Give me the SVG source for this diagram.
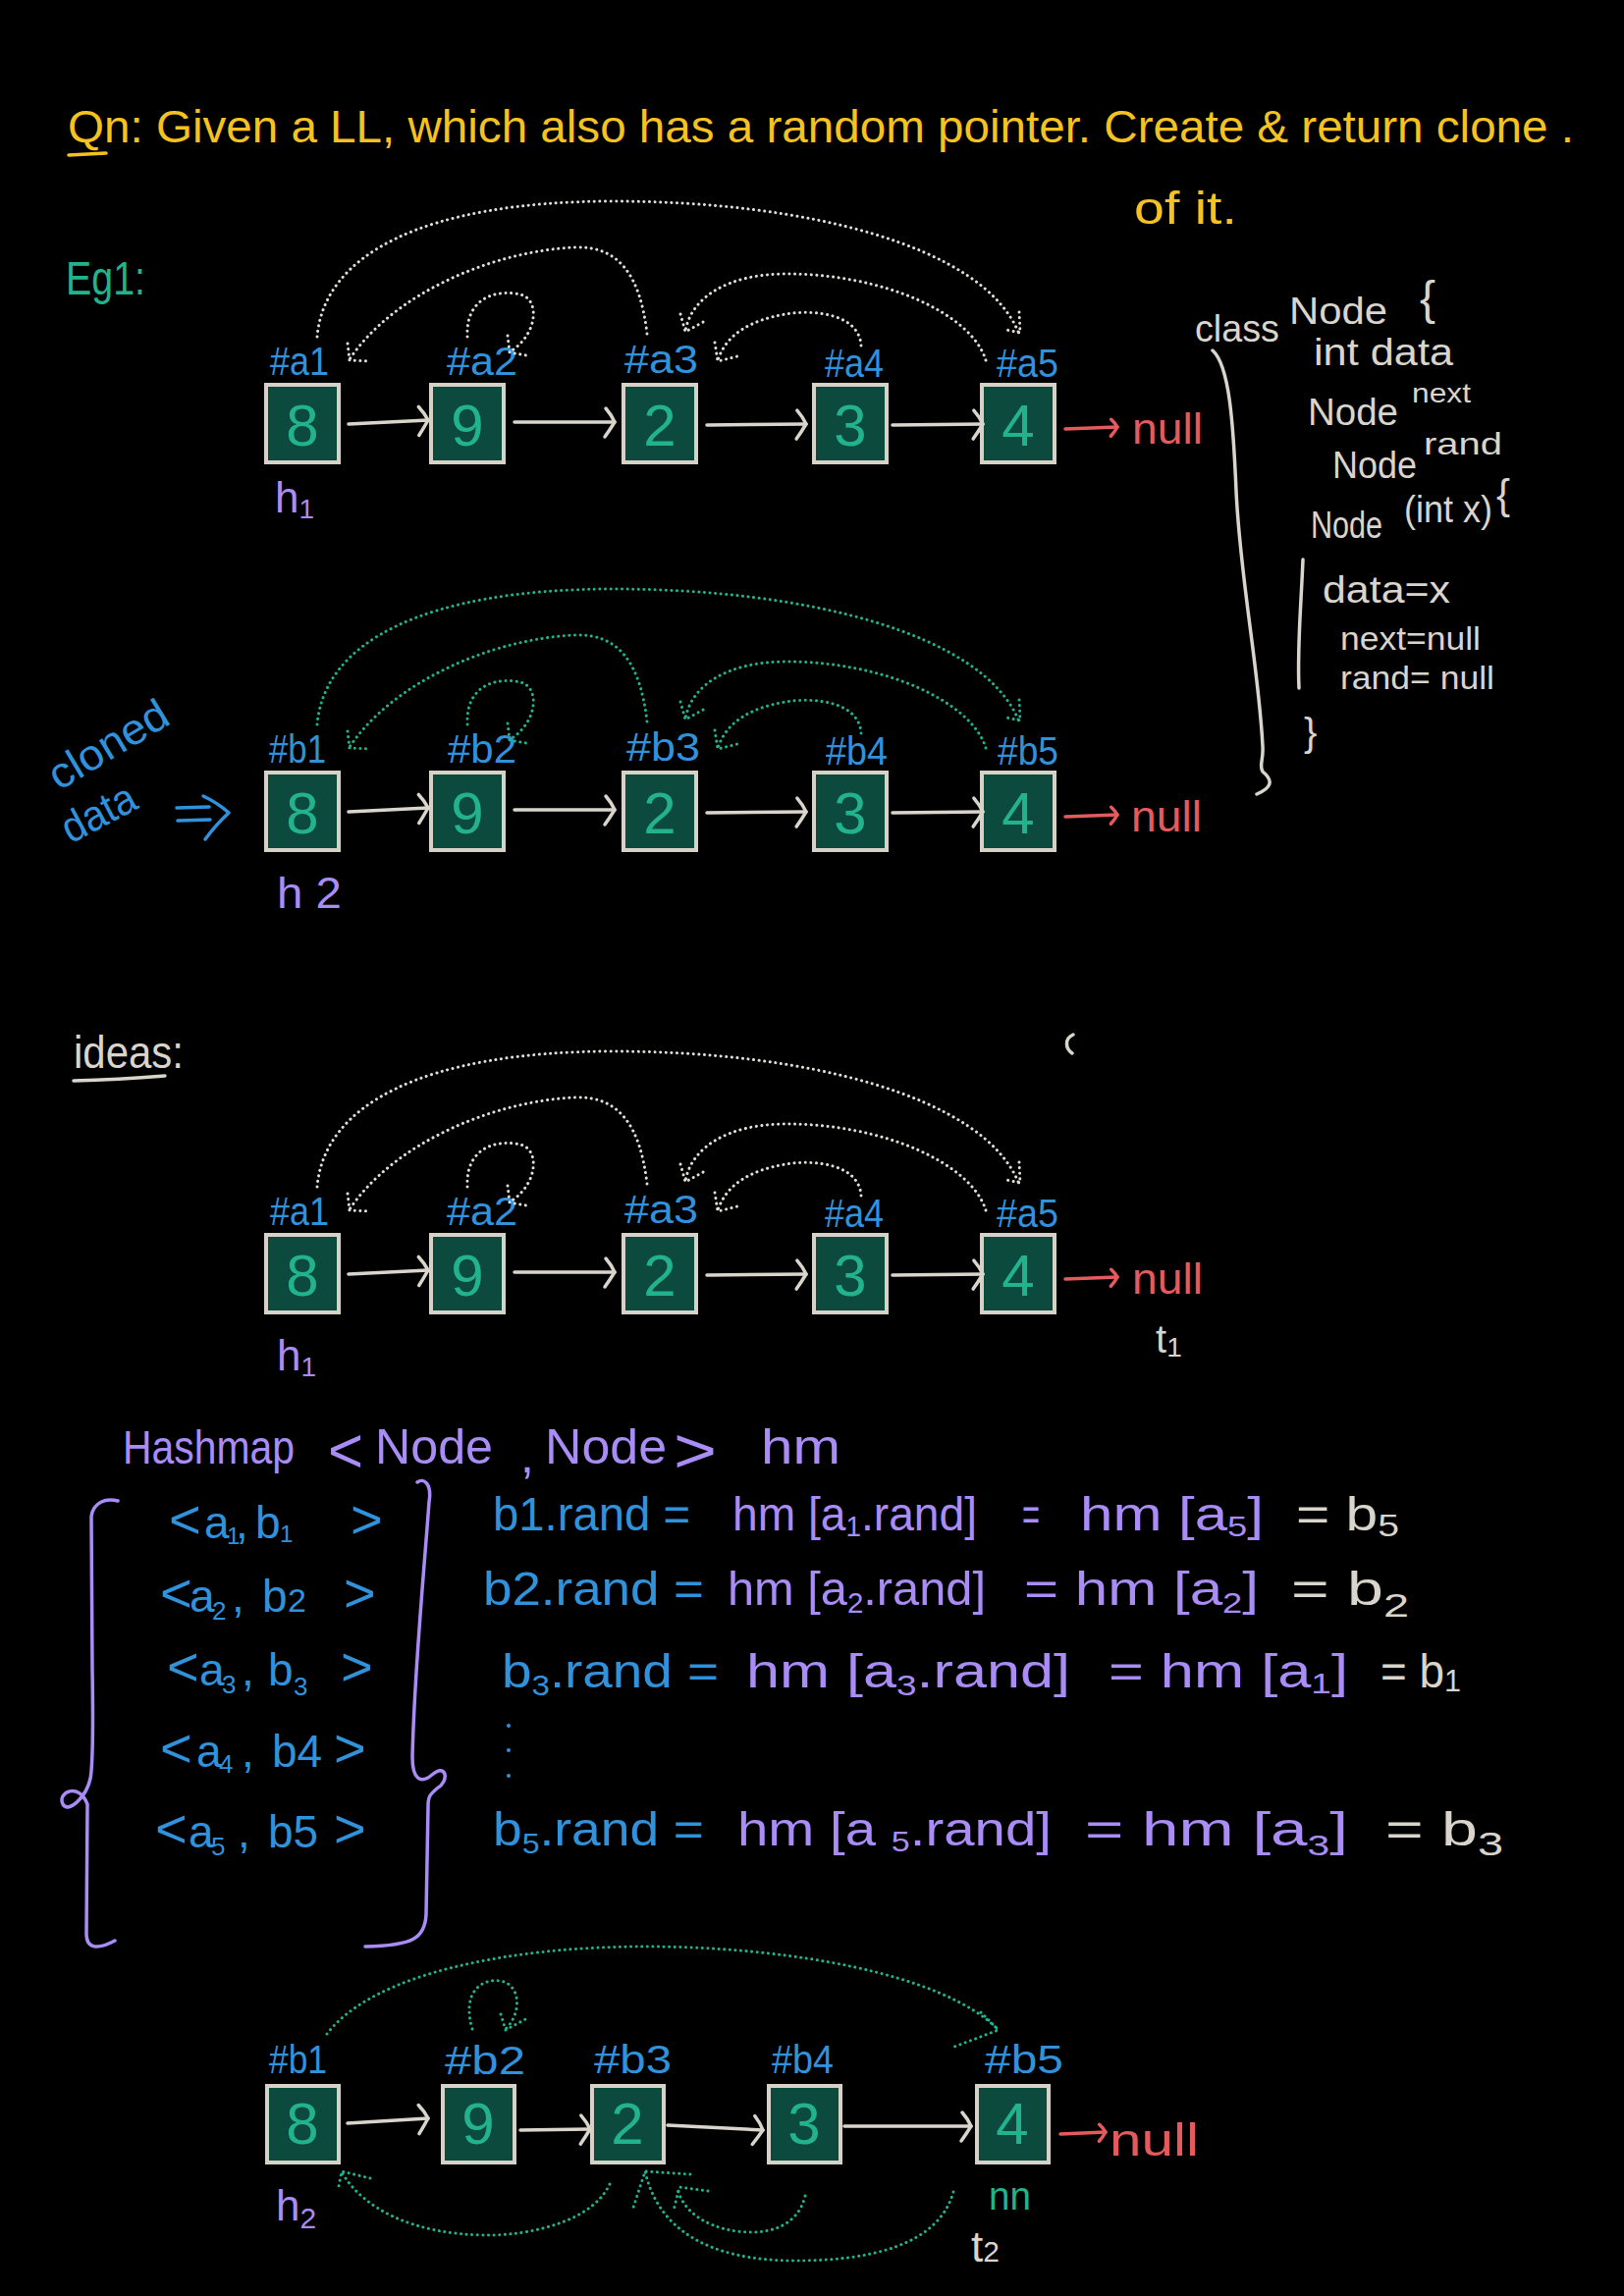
<svg xmlns="http://www.w3.org/2000/svg" width="1654" height="2339" viewBox="0 0 1654 2339">
<style>
text { font-family: 'Liberation Sans', Arial, sans-serif; }
.y { fill: #f5c21f; } .b { fill: #3192dc; } .p { fill: #a98cf6; } .g { fill: #d9d5cc; } .t { fill: #22b38d; } .r { fill: #e45b5d; }
.box { fill: #0c4a3e; stroke: #d6d2c8; stroke-width: 4; }
.num { font-size: 60px; text-anchor: middle; fill: #22b38d; }
.lbl { font-size: 40px; fill: #3192dc; }
.br { font-size: 56px; }
.next { fill: none; stroke: #d9d5cc; stroke-width: 3.5; stroke-linecap: round; marker-end: url(#ah); }
.nul { fill: none; stroke: #e45b5d; stroke-width: 3.5; stroke-linecap: round; marker-end: url(#ahr); }
.dw { fill: none; stroke: #e2dfd8; stroke-width: 3; stroke-linecap: round; stroke-dasharray: 0.1 5.5; }
.dt { fill: none; stroke: #22b38d; stroke-width: 3; stroke-linecap: round; stroke-dasharray: 0.1 5.5; }
.pen { fill: none; stroke-width: 3.5; stroke-linecap: round; stroke-linejoin: round; }
</style>
<defs>
  <marker id="ah" viewBox="-16 -18 20 36" refX="0" refY="0" markerWidth="20" markerHeight="36" markerUnits="userSpaceOnUse" orient="auto" overflow="visible">
    <path d="M-9,-14 Q-3,-7 0,0 Q-5,8 -10,15" fill="none" stroke="#d9d5cc" stroke-width="3.5" stroke-linecap="round"/>
  </marker>
  <marker id="ahr" viewBox="-12 -12 16 24" refX="0" refY="0" markerWidth="16" markerHeight="24" markerUnits="userSpaceOnUse" orient="auto" overflow="visible">
    <path d="M-6,-8 Q-2,-4 0,0 Q-3,5 -7,9" fill="none" stroke="#e45b5d" stroke-width="3.5" stroke-linecap="round"/>
  </marker>
</defs>

<rect width="1654" height="2339" fill="#000"/>

<!-- question -->
<g id="question">
  <text class="y" x="69" y="145" font-size="47" textLength="1534" lengthAdjust="spacingAndGlyphs">Qn: Given a LL, which also has a random pointer. Create &amp; return clone .</text>
  <path class="pen" stroke="#f5c21f" d="M70,158 L108,156"/>
  <text class="y" x="1155" y="228" font-size="47" textLength="105" lengthAdjust="spacingAndGlyphs">of it.</text>
</g>

<text id="eg1" class="t" x="67" y="300" font-size="48" textLength="81" lengthAdjust="spacingAndGlyphs">Eg1:</text>

<!-- class definition sketch -->
<g id="classNode" class="g" font-size="38">
  <text x="1217" y="348" textLength="86" lengthAdjust="spacingAndGlyphs">class</text>
  <text x="1313" y="330" textLength="100" lengthAdjust="spacingAndGlyphs">Node</text>
  <text x="1446" y="320" font-size="48">{</text>
  <text x="1338" y="372" textLength="142" lengthAdjust="spacingAndGlyphs">int data</text>
  <text x="1332" y="433" textLength="92" lengthAdjust="spacingAndGlyphs">Node</text>
  <text x="1438" y="410" font-size="28" textLength="60" lengthAdjust="spacingAndGlyphs">next</text>
  <text x="1357" y="487" textLength="86" lengthAdjust="spacingAndGlyphs">Node</text>
  <text x="1450" y="463" font-size="32" textLength="80" lengthAdjust="spacingAndGlyphs">rand</text>
  <text x="1335" y="548" textLength="73" lengthAdjust="spacingAndGlyphs">Node</text>
  <text x="1430" y="532" textLength="90" lengthAdjust="spacingAndGlyphs">(int x)</text>
  <text x="1524" y="518" font-size="42">{</text>
  <path class="pen" stroke="#d9d5cc" d="M1327,570 C1325,620 1321,660 1323,701"/>
  <text x="1347" y="614" textLength="130" lengthAdjust="spacingAndGlyphs">data=x</text>
  <text x="1365" y="662" font-size="34" textLength="143" lengthAdjust="spacingAndGlyphs">next=null</text>
  <text x="1365" y="702" font-size="34" textLength="157" lengthAdjust="spacingAndGlyphs">rand= null</text>
  <text x="1328" y="760" font-size="40">}</text>
  <path class="pen" stroke="#d9d5cc" d="M1235,357 C1252,372 1256,430 1259,500 C1263,590 1282,680 1286,760 C1287,775 1282,780 1286,786 C1298,796 1294,803 1280,809"/>
</g>

<!-- list 1: original nodes a1..a5 -->
<g id="list1">
  <g id="list1-nodes">
    <g id="a1"><rect class="box" x="271" y="392" width="74" height="79"/><text class="num" x="308" y="454">8</text><text class="lbl" x="275" y="382" textLength="60" lengthAdjust="spacingAndGlyphs">#a1</text></g>
    <g id="a2"><rect class="box" x="439" y="392" width="74" height="79"/><text class="num" x="476" y="454">9</text><text class="lbl" x="455" y="382" textLength="72" lengthAdjust="spacingAndGlyphs">#a2</text></g>
    <g id="a3"><rect class="box" x="635" y="392" width="74" height="79"/><text class="num" x="672" y="454">2</text><text class="lbl" x="636" y="380" textLength="75" lengthAdjust="spacingAndGlyphs">#a3</text></g>
    <g id="a4"><rect class="box" x="829" y="392" width="74" height="79"/><text class="num" x="866" y="454">3</text><text class="lbl" x="840" y="384" textLength="60" lengthAdjust="spacingAndGlyphs">#a4</text></g>
    <g id="a5"><rect class="box" x="1000" y="392" width="74" height="79"/><text class="num" x="1037" y="454">4</text><text class="lbl" x="1015" y="384" textLength="63" lengthAdjust="spacingAndGlyphs">#a5</text></g>
    <g id="null1"><text class="r" x="1153" y="452" font-size="44" textLength="72" lengthAdjust="spacingAndGlyphs">null</text></g>
    <g id="h1"><text class="p" x="280" y="522" font-size="44">h<tspan font-size="28" dy="6">1</tspan></text></g>
  </g>
  <g id="list1-links">
    <path class="next" d="M355,432 L436,428"/>
    <path class="next" d="M524,430 L626,430"/>
    <path class="next" d="M720,433 L821,432"/>
    <path class="next" d="M909,433 L1001,432"/>
    <path class="nul" d="M1085,437 L1138,435"/>
    <path class="dw" d="M323,343 C330,260 430,205 625,205 C820,205 1000,250 1037,338"/>
    <path class="dw" d="M1038,318 L1039,339 L1025,336"/>
    <path class="dw" d="M659,340 C652,280 630,250 585,252 C500,256 400,300 356,366"/>
    <path class="dw" d="M354,350 L356,367 L378,368"/>
    <path class="dw" d="M476,343 C474,300 510,295 530,300 C550,305 548,340 520,358"/>
    <path class="dw" d="M517,342 L519,359 L536,362"/>
    <path class="dw" d="M1004,367 C990,320 900,278 797,279 C745,280 705,300 698,337"/>
    <path class="dw" d="M693,320 L698,338 L718,327"/>
    <path class="dw" d="M877,352 C875,320 830,315 800,320 C765,326 740,340 731,367"/>
    <path class="dw" d="M728,349 L731,368 L755,362"/>
  </g>
</g>

<!-- cloned data caption -->
<g id="clonedCaption">
  <text class="b" font-size="44" transform="translate(60,806) rotate(-31)" textLength="135" lengthAdjust="spacingAndGlyphs">cloned</text>
  <text class="b" font-size="44" transform="translate(72,860) rotate(-28)" textLength="80" lengthAdjust="spacingAndGlyphs">data</text>
  <path class="pen" stroke="#3192dc" d="M180,823 L213,822 M181,836 L214,835 M207,811 Q222,818 233,828 Q220,840 209,855"/>
</g>

<!-- list 2: cloned nodes b1..b5 -->
<g id="list2" transform="translate(0,395)">
  <g id="list2-nodes">
    <g id="b1"><rect class="box" x="271" y="392" width="74" height="79"/><text class="num" x="308" y="454">8</text><text class="lbl" x="274" y="382" textLength="58" lengthAdjust="spacingAndGlyphs">#b1</text></g>
    <g id="b2"><rect class="box" x="439" y="392" width="74" height="79"/><text class="num" x="476" y="454">9</text><text class="lbl" x="456" y="382" textLength="70" lengthAdjust="spacingAndGlyphs">#b2</text></g>
    <g id="b3"><rect class="box" x="635" y="392" width="74" height="79"/><text class="num" x="672" y="454">2</text><text class="lbl" x="638" y="380" textLength="75" lengthAdjust="spacingAndGlyphs">#b3</text></g>
    <g id="b4"><rect class="box" x="829" y="392" width="74" height="79"/><text class="num" x="866" y="454">3</text><text class="lbl" x="841" y="384" textLength="63" lengthAdjust="spacingAndGlyphs">#b4</text></g>
    <g id="b5"><rect class="box" x="1000" y="392" width="74" height="79"/><text class="num" x="1037" y="454">4</text><text class="lbl" x="1016" y="384" textLength="62" lengthAdjust="spacingAndGlyphs">#b5</text></g>
    <g id="null2"><text class="r" x="1152" y="452" font-size="44" textLength="72" lengthAdjust="spacingAndGlyphs">null</text></g>
    <g id="h2"><text class="p" x="282" y="530" font-size="44" textLength="66" lengthAdjust="spacingAndGlyphs">h 2</text></g>
  </g>
  <g id="list2-links">
    <path class="next" d="M355,432 L436,428"/>
    <path class="next" d="M524,430 L626,430"/>
    <path class="next" d="M720,433 L821,432"/>
    <path class="next" d="M909,433 L1001,432"/>
    <path class="nul" d="M1085,437 L1138,435"/>
    <path class="dt" d="M323,343 C330,260 430,205 625,205 C820,205 1000,250 1037,338"/>
    <path class="dt" d="M1038,318 L1039,339 L1025,336"/>
    <path class="dt" d="M659,340 C652,280 630,250 585,252 C500,256 400,300 356,366"/>
    <path class="dt" d="M354,350 L356,367 L378,368"/>
    <path class="dt" d="M476,343 C474,300 510,295 530,300 C550,305 548,340 520,358"/>
    <path class="dt" d="M517,342 L519,359 L536,362"/>
    <path class="dt" d="M1004,367 C990,320 900,278 797,279 C745,280 705,300 698,337"/>
    <path class="dt" d="M693,320 L698,338 L718,327"/>
    <path class="dt" d="M877,352 C875,320 830,315 800,320 C765,326 740,340 731,367"/>
    <path class="dt" d="M728,349 L731,368 L755,362"/>
  </g>
</g>

<!-- ideas -->
<g id="ideas">
  <text class="g" x="75" y="1088" font-size="46" textLength="112" lengthAdjust="spacingAndGlyphs">ideas:</text>
  <path class="pen" stroke="#d9d5cc" d="M75,1101 Q120,1100 168,1096"/>
  <path class="pen" stroke="#d9d5cc" stroke-width="2.5" d="M1093,1054 C1084,1058 1085,1068 1092,1073"/>
</g>

<!-- list 3: original nodes again -->
<g id="list3" transform="translate(0,866)">
  <g id="list3-nodes">
    <g id="a1-copy"><rect class="box" x="271" y="392" width="74" height="79"/><text class="num" x="308" y="454">8</text><text class="lbl" x="275" y="382" textLength="60" lengthAdjust="spacingAndGlyphs">#a1</text></g>
    <g id="a2-copy"><rect class="box" x="439" y="392" width="74" height="79"/><text class="num" x="476" y="454">9</text><text class="lbl" x="455" y="382" textLength="72" lengthAdjust="spacingAndGlyphs">#a2</text></g>
    <g id="a3-copy"><rect class="box" x="635" y="392" width="74" height="79"/><text class="num" x="672" y="454">2</text><text class="lbl" x="636" y="380" textLength="75" lengthAdjust="spacingAndGlyphs">#a3</text></g>
    <g id="a4-copy"><rect class="box" x="829" y="392" width="74" height="79"/><text class="num" x="866" y="454">3</text><text class="lbl" x="840" y="384" textLength="60" lengthAdjust="spacingAndGlyphs">#a4</text></g>
    <g id="a5-copy"><rect class="box" x="1000" y="392" width="74" height="79"/><text class="num" x="1037" y="454">4</text><text class="lbl" x="1015" y="384" textLength="63" lengthAdjust="spacingAndGlyphs">#a5</text></g>
    <g id="null3"><text class="r" x="1153" y="452" font-size="44" textLength="72" lengthAdjust="spacingAndGlyphs">null</text></g>
    <g id="h1-copy"><text class="p" x="282" y="530" font-size="44">h<tspan font-size="28" dy="6">1</tspan></text></g>
    <g id="t1"><text class="g" x="1177" y="512" font-size="40">t<tspan font-size="28" dy="4">1</tspan></text></g>
  </g>
  <g id="list3-links">
    <path class="next" d="M355,432 L436,428"/>
    <path class="next" d="M524,430 L626,430"/>
    <path class="next" d="M720,433 L821,432"/>
    <path class="next" d="M909,433 L1001,432"/>
    <path class="nul" d="M1085,437 L1138,435"/>
    <path class="dw" d="M323,343 C330,260 430,205 625,205 C820,205 1000,250 1037,338"/>
    <path class="dw" d="M1038,318 L1039,339 L1025,336"/>
    <path class="dw" d="M659,340 C652,280 630,250 585,252 C500,256 400,300 356,366"/>
    <path class="dw" d="M354,350 L356,367 L378,368"/>
    <path class="dw" d="M476,343 C474,300 510,295 530,300 C550,305 548,340 520,358"/>
    <path class="dw" d="M517,342 L519,359 L536,362"/>
    <path class="dw" d="M1004,367 C990,320 900,278 797,279 C745,280 705,300 698,337"/>
    <path class="dw" d="M693,320 L698,338 L718,327"/>
    <path class="dw" d="M877,352 C875,320 830,315 800,320 C765,326 740,340 731,367"/>
    <path class="dw" d="M728,349 L731,368 L755,362"/>
  </g>
</g>

<!-- hashmap declaration -->
<g id="hashmap">
  <text class="p" x="125" y="1491" font-size="48" textLength="175" lengthAdjust="spacingAndGlyphs">Hashmap</text>
  <text class="p" x="334" y="1500" font-size="64" textLength="36" lengthAdjust="spacingAndGlyphs">&lt;</text>
  <text class="p" x="382" y="1491" font-size="50" textLength="120" lengthAdjust="spacingAndGlyphs">Node</text>
  <text class="p" x="530" y="1500" font-size="50">,</text>
  <text class="p" x="555" y="1491" font-size="50" textLength="124" lengthAdjust="spacingAndGlyphs">Node</text>
  <text class="p" x="686" y="1500" font-size="64" textLength="44" lengthAdjust="spacingAndGlyphs">&gt;</text>
  <text class="p" x="775" y="1491" font-size="50" textLength="81" lengthAdjust="spacingAndGlyphs">hm</text>
  <path class="pen" stroke="#a98cf6" d="M120,1529 C108,1526 95,1530 93,1545 L94,1700 C95,1760 95,1795 92,1812 C88,1830 70,1848 64,1838 C58,1826 80,1815 89,1838 L88,1970 C88,1986 100,1986 117,1977"/>
  <path class="pen" stroke="#a98cf6" d="M425,1510 C432,1505 440,1512 437,1530 C432,1600 422,1700 420,1790 C420,1812 428,1818 440,1808 C455,1795 458,1815 445,1822 C438,1828 436,1830 436,1840 L434,1950 C433,1975 420,1982 372,1983"/>
</g>

<!-- hashmap entries -->
<g id="pairs" class="b" font-size="46">
  <text y="1567"><tspan x="172" class="br">&lt;</tspan><tspan x="208">a</tspan><tspan x="231" dy="6" font-size="24">1</tspan><tspan x="240" dy="-6">,</tspan><tspan x="260">b</tspan><tspan x="285" dy="4" font-size="24">1</tspan><tspan x="357" dy="-4" class="br">&gt;</tspan></text>
  <text y="1642"><tspan x="163" class="br">&lt;</tspan><tspan x="193">a</tspan><tspan x="216" dy="8" font-size="26">2</tspan><tspan x="236" dy="-8">,</tspan><tspan x="267">b</tspan><tspan x="293" font-size="34">2</tspan><tspan x="350" class="br">&gt;</tspan></text>
  <text y="1717"><tspan x="170" class="br">&lt;</tspan><tspan x="203">a</tspan><tspan x="226" dy="8" font-size="26">3</tspan><tspan x="246" dy="-8">,</tspan><tspan x="273">b</tspan><tspan x="299" dy="10" font-size="26">3</tspan><tspan x="347" dy="-10" class="br">&gt;</tspan></text>
  <text y="1800"><tspan x="163" class="br">&lt;</tspan><tspan x="200">a</tspan><tspan x="223" dy="6" font-size="26">4</tspan><tspan x="246" dy="-6">,</tspan><tspan x="277">b4</tspan><tspan x="340" class="br">&gt;</tspan></text>
  <text y="1882"><tspan x="158" class="br">&lt;</tspan><tspan x="192">a</tspan><tspan x="215" dy="8" font-size="26">5</tspan><tspan x="242" dy="-8">,</tspan><tspan x="273">b5</tspan><tspan x="340" class="br">&gt;</tspan></text>
</g>

<!-- random pointer lookups -->
<g id="lookups" font-size="48">
  <text class="b" x="502" y="1559" textLength="201" lengthAdjust="spacingAndGlyphs">b1.rand =</text>
  <text class="p" x="746" y="1559" textLength="249" lengthAdjust="spacingAndGlyphs">hm [a<tspan font-size="29" dy="6">1</tspan><tspan dy="-6">.rand]</tspan></text>
  <text class="p" x="1041" y="1559" textLength="18" lengthAdjust="spacingAndGlyphs">=</text>
  <text class="p" x="1100" y="1559" textLength="187" lengthAdjust="spacingAndGlyphs">hm [a<tspan font-size="29" dy="6">5</tspan><tspan dy="-6">]</tspan></text>
  <text class="g" x="1320" y="1559" textLength="105" lengthAdjust="spacingAndGlyphs">= b<tspan font-size="32" dy="6">5</tspan></text>

  <text class="b" x="492" y="1635" textLength="225" lengthAdjust="spacingAndGlyphs">b2.rand =</text>
  <text class="p" x="741" y="1635" textLength="263" lengthAdjust="spacingAndGlyphs">hm [a<tspan font-size="29" dy="8">2</tspan><tspan dy="-8">.rand]</tspan></text>
  <text class="p" x="1043" y="1635" textLength="239" lengthAdjust="spacingAndGlyphs">= hm [a<tspan font-size="29" dy="8">2</tspan><tspan dy="-8">]</tspan></text>
  <text class="g" x="1315" y="1635" textLength="120" lengthAdjust="spacingAndGlyphs">= b<tspan font-size="34" dy="12">2</tspan></text>

  <text class="b" x="511" y="1719" textLength="221" lengthAdjust="spacingAndGlyphs">b<tspan font-size="29" dy="8">3</tspan><tspan dy="-8">.rand =</tspan></text>
  <text class="p" x="760" y="1719" textLength="330" lengthAdjust="spacingAndGlyphs">hm [a<tspan font-size="29" dy="8">3</tspan><tspan dy="-8">.rand]</tspan></text>
  <text class="p" x="1129" y="1719" textLength="244" lengthAdjust="spacingAndGlyphs">= hm [a<tspan font-size="29" dy="6">1</tspan><tspan dy="-6">]</tspan></text>
  <text class="g" x="1406" y="1719" textLength="82" lengthAdjust="spacingAndGlyphs">= b<tspan font-size="32" dy="4">1</tspan></text>

  <g class="b"><circle cx="518" cy="1758" r="2"/><circle cx="518" cy="1783" r="2"/><circle cx="518" cy="1809" r="2"/></g>

  <text class="b" x="502" y="1880" textLength="215" lengthAdjust="spacingAndGlyphs">b<tspan font-size="29" dy="8">5</tspan><tspan dy="-8">.rand =</tspan></text>
  <text class="p" x="751" y="1880" textLength="320" lengthAdjust="spacingAndGlyphs">hm [a <tspan font-size="29" dy="6">5</tspan><tspan dy="-6">.rand]</tspan></text>
  <text class="p" x="1105" y="1880" textLength="268" lengthAdjust="spacingAndGlyphs">= hm [a<tspan font-size="29" dy="10">3</tspan><tspan dy="-10">]</tspan></text>
  <text class="g" x="1411" y="1880" textLength="120" lengthAdjust="spacingAndGlyphs">= b<tspan font-size="34" dy="10">3</tspan></text>
</g>

<!-- list 4: cloned list with random pointers resolved -->
<g id="list4">
  <g id="list4-nodes">
    <g id="c1"><rect class="box" x="272" y="2125" width="73" height="78"/><text class="num" x="308" y="2184" font-size="56">8</text><text class="lbl" x="274" y="2112" textLength="59" lengthAdjust="spacingAndGlyphs">#b1</text></g>
    <g id="c2"><rect class="box" x="451" y="2125" width="73" height="78"/><text class="num" x="487" y="2184" font-size="56">9</text><text class="lbl" x="453" y="2113" textLength="82" lengthAdjust="spacingAndGlyphs">#b2</text></g>
    <g id="c3"><rect class="box" x="603" y="2125" width="73" height="78"/><text class="num" x="639" y="2184" font-size="56">2</text><text class="lbl" x="605" y="2112" textLength="79" lengthAdjust="spacingAndGlyphs">#b3</text></g>
    <g id="c4"><rect class="box" x="783" y="2125" width="73" height="78"/><text class="num" x="819" y="2184" font-size="56">3</text><text class="lbl" x="786" y="2112" textLength="63" lengthAdjust="spacingAndGlyphs">#b4</text></g>
    <g id="c5"><rect class="box" x="995" y="2125" width="73" height="78"/><text class="num" x="1031" y="2184" font-size="56">4</text><text class="lbl" x="1003" y="2112" textLength="80" lengthAdjust="spacingAndGlyphs">#b5</text></g>
    <g id="null4"><text class="r" x="1130" y="2196" font-size="46" textLength="91" lengthAdjust="spacingAndGlyphs">null</text></g>
    <g id="h2-copy"><text class="p" x="281" y="2262" font-size="44">h<tspan font-size="30" dy="8">2</tspan></text></g>
    <g id="nn"><text class="t" x="1007" y="2251" font-size="40" textLength="43" lengthAdjust="spacingAndGlyphs">nn</text></g>
    <g id="t2"><text class="g" x="989" y="2304" font-size="44">t<tspan font-size="30">2</tspan></text></g>
  </g>
  <g id="list4-links">
    <path class="next" d="M354,2163 L436,2158"/>
    <path class="next" d="M530,2170 L601,2169"/>
    <path class="next" d="M680,2165 L777,2170"/>
    <path class="next" d="M860,2166 L989,2166"/>
    <path class="nul" d="M1080,2174 L1126,2172"/>
    <path class="dt" d="M333,2072 C380,2010 520,1983 657,1983 C800,1983 960,2010 1017,2068"/>
    <path class="dt" d="M999,2050 L1017,2068 L972,2085"/>
    <path class="dt" d="M481,2067 C470,2030 490,2015 510,2018 C530,2022 532,2050 515,2067"/>
    <path class="dt" d="M510,2052 L515,2068 L537,2056"/>
    <path class="dt" d="M621,2225 C600,2270 520,2278 494,2277 C420,2276 370,2250 348,2213"/>
    <path class="dt" d="M377,2219 L348,2212 L344,2232"/>
    <path class="dt" d="M820,2237 C812,2270 780,2277 750,2273 C715,2268 695,2250 690,2230"/>
    <path class="dt" d="M721,2232 L692,2228 L686,2252"/>
    <path class="dt" d="M971,2233 C955,2290 880,2303 810,2303 C720,2303 670,2270 657,2212"/>
    <path class="dt" d="M703,2215 L657,2212 L644,2252"/>
  </g>
</g>
</svg>
